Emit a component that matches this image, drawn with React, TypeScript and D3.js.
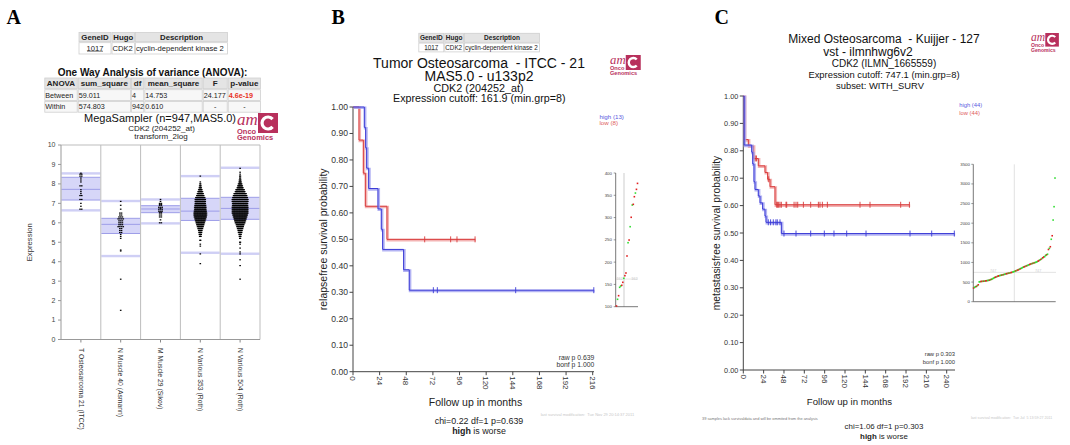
import React from 'react';
import * as d3 from 'd3';

const SANS = 'Liberation Sans, Arial, Helvetica, sans-serif';
const SERIF = 'Liberation Serif, Times New Roman, serif';

// ---------- Panel A data ----------
const groupLabels = ['T Osteosarcoma 21 (ITCC)', 'N Muscle 40 (Asmann)', 'M Muscle 29 (Sikov)', 'N Various 353 (Roth)', 'N Various 504 (Roth)'];
// [lower whisker, q1, median, q3, upper whisker]
const boxStats = [
  [6.64, 7.17, 7.72, 8.34, 8.54],
  [4.29, 5.45, 5.92, 6.23, 7.12],
  [5.97, 6.52, 6.71, 6.88, 7.2],
  [4.46, 6.12, 6.6, 7.26, 8.4],
  [4.41, 6.18, 6.74, 7.31, 8.83],
];
// [expression value, number of samples]
const swarm1 = [[8.55, 1], [8.5, 2], [8.4, 2], [8.3, 1], [8.2, 1], [8.1, 1], [7.9, 2], [7.7, 1], [7.6, 1], [7.5, 1], [7.4, 2], [7.2, 2], [7.0, 1], [6.85, 1], [6.7, 2]];
const swarm2 = [[7.1, 1], [6.9, 1], [6.7, 1], [6.5, 2], [6.4, 2], [6.3, 3], [6.2, 4], [6.1, 3], [6.0, 3], [5.9, 3], [5.8, 4], [5.7, 2], [5.6, 2], [5.5, 2], [5.4, 1], [5.3, 1], [5.2, 1], [4.6, 1], [4.55, 1], [3.1, 1], [1.5, 1]];
const swarm3 = [[7.2, 1], [7.1, 1], [7.0, 2], [6.95, 2], [6.9, 2], [6.8, 3], [6.75, 1], [6.7, 3], [6.6, 3], [6.55, 2], [6.5, 2], [6.4, 2], [6.3, 2], [6.15, 1], [6.0, 2]];
const swarm4 = [[8.4, 1], [8.1, 1], [8.0, 2], [7.9, 3], [7.8, 4], [7.7, 6], [7.6, 8], [7.5, 10], [7.4, 12], [7.3, 15], [7.2, 17], [7.1, 17], [7.0, 17], [6.9, 18], [6.8, 19], [6.7, 19], [6.6, 20], [6.5, 21], [6.4, 21], [6.3, 20], [6.2, 18], [6.1, 16], [6.0, 14], [5.9, 12], [5.8, 10], [5.7, 8], [5.6, 6], [5.5, 5], [5.4, 4], [5.3, 3], [5.1, 2], [4.9, 1], [4.8, 1], [4.4, 1], [3.9, 1]];
const swarm5 = [[8.8, 1], [8.6, 1], [8.5, 1], [8.4, 2], [8.3, 2], [8.2, 3], [8.1, 4], [8.0, 6], [7.9, 8], [7.8, 10], [7.7, 14], [7.6, 16], [7.5, 20], [7.4, 22], [7.3, 24], [7.2, 26], [7.1, 26], [7.0, 25], [6.9, 25], [6.8, 26], [6.7, 26], [6.6, 26], [6.5, 26], [6.4, 24], [6.3, 22], [6.2, 20], [6.1, 18], [6.0, 16], [5.9, 13], [5.8, 11], [5.7, 9], [5.6, 7], [5.5, 6], [5.4, 4], [5.3, 3], [5.2, 2], [5.0, 2], [4.9, 1], [4.7, 1], [4.5, 1], [4.4, 1], [4.1, 1], [3.8, 1], [3.1, 1]];
const swarms = [swarm1, swarm2, swarm3, swarm4, swarm5];
const exprTicks = [0, 1, 2, 3, 4, 5, 6, 7, 8, 9, 10];

const geneHeader = ['GeneID', 'Hugo', 'Description'];
const geneRow = ['1017', 'CDK2', 'cyclin-dependent kinase 2'];
const anovaHeader = ['ANOVA', 'sum_square', 'df', 'mean_square', 'F', 'p-value'];
const anovaBetween = ['Between', '59.011', '4', '14.753', '24.177', '4.6e-19'];
const anovaWithin = ['Within', '574.803', '942', '0.610', '-', '-'];

// ---------- Panel B data ----------
// step points [months, survival]
const bHighSteps = [[0, 1], [10.2, 0.923], [11.4, 0.846], [12.3, 0.769], [14.1, 0.692], [22.5, 0.615], [25.5, 0.538], [26.7, 0.462], [45.6, 0.385], [50.7, 0.308]];
const bHighCensor = [72.4, 76, 146.6, 217];
const bHighEnd = 217;
const bLowSteps = [[0, 1], [5.4, 0.875], [9.3, 0.75], [11.1, 0.625], [30.6, 0.5]];
const bLowCensor = [64.6, 88, 93.7, 110];
const bLowEnd = 110;
const bInsetValues = [101.6, 116.6, 124.7, 143.5, 146.4, 148, 154.7, 163.7, 169.6, 175.6, 213.8, 243.6, 249.6, 279.5, 300.6, 328.2, 329.7, 346.8, 355, 363.3, 376.7];
const bInsetColors = 'rgrggrrgrrrgrgrgrrgrr';
const bInsetTicks = [100, 150, 200, 250, 300, 350, 400];
const bCutoff = 162;

// ---------- Panel C data ----------
const cHighSteps = [[0, 1], [1.0, 0.821], [9.9, 0.795], [11.1, 0.752], [12.6, 0.687], [13.8, 0.659], [17.7, 0.635], [19.7, 0.61], [22.8, 0.587], [25.6, 0.562], [26.8, 0.539], [44.9, 0.498]];
const cHighCensor = [29.5, 32.2, 35.4, 38.5, 40.1, 43.3, 48, 62.2, 79.5, 95.6, 107, 122, 144.8, 196.7, 222.3, 249];
const cHighEnd = 249;
const cLowSteps = [[0, 1], [1.2, 0.841], [5.9, 0.818], [11.8, 0.772], [17.7, 0.745], [25.6, 0.721], [28.7, 0.696], [31.5, 0.669], [37.4, 0.603]];
const cLowCensor = [14, 15.5, 30, 39.4, 40.5, 41.7, 43.3, 44.9, 50.4, 51.2, 59.9, 62.2, 64.2, 70.9, 79.5, 88.6, 90.5, 93.3, 99.2, 137.7, 149.5, 185.7, 196];
const cLowEnd = 196;
const cInsetValues = [350, 365, 380, 390, 410, 430, 505, 510, 515, 518, 520, 522, 525, 530, 535, 540, 545, 550, 560, 570, 580, 595, 610, 620, 632, 640, 650, 660, 666, 672, 678, 684, 690, 698, 705, 712, 718, 724, 730, 736, 742, 748, 757, 765, 775, 785, 795, 805, 815, 828, 840, 852, 865, 878, 888, 898, 908, 918, 928, 938, 950, 960, 968, 976, 984, 992, 1000, 1010, 1020, 1035, 1050, 1065, 1080, 1100, 1120, 1140, 1150, 1180, 1195, 1210, 1330, 1360, 1400, 1590, 1680, 2080, 2420, 3150];
const cInsetColors = 'rggrgrggrrgrgrrggrgrgggrrgrrggrgrggrrgrgrrgggrgrrgrgggrrgrggrrgrgrgggrrgrgrrggrgrgrgrgg';
const cInsetTicks = [0, 500, 1000, 1500, 2000, 2500, 3000, 3500];
const cCutoff = 747;

const survTicks = [0, 0.1, 0.2, 0.3, 0.4, 0.5, 0.6, 0.7, 0.8, 0.9, 1.0];
const bMonthTicks = [0, 24, 48, 72, 96, 120, 144, 168, 192, 216];
const cMonthTicks = [0, 24, 48, 72, 96, 120, 144, 168, 192, 216, 240];

const BLUE = '#3b3bd6';
const BLUE_L = '#a0a0f0';
const RED = '#d83a3a';
const RED_L = '#f0a0a0';
const LOGO = '#b8305c';

function Logo({ x, y, s }: { x: number; y: number; s: number }) {
  return (
    <g transform={`translate(${x},${y}) scale(${s})`}>
      <rect x={21} y={0} width={20} height={20} fill={LOGO} />
      <path d="M 35.6 13.9 A 6 6 0 1 1 35.6 6.1" stroke="#fff" strokeWidth={3.2} fill="none" />
      <text x={0} y={12} fontFamily={SERIF} fontStyle="italic" fontSize={17} fill={LOGO}>am</text>
      <text x={0} y={20.5} fontFamily={SANS} fontWeight="bold" fontSize={7.5} fill={LOGO}>Onco</text>
      <text x={0} y={27.3} fontFamily={SANS} fontWeight="bold" fontSize={7.5} fill={LOGO}>Genomics</text>
    </g>
  );
}

function Cells({ bounds, y0, y1, texts, fs, bold, fill, align, colors }: any) {
  return (
    <g>
      {texts.map((t: string, i: number) => {
        const a = bounds[i], b = bounds[i + 1];
        const al = align ? align[i] : 'middle';
        const tx = al === 'middle' ? (a + b) / 2 : a + 1;
        return (
          <g key={i}>
            <rect x={a + 0.5} y={y0} width={b - a - 1} height={y1 - y0} fill={fill} stroke="#cfcfcf" strokeWidth={0.8} />
            <text x={tx} y={(y0 + y1) / 2 + fs * 0.36} fontFamily={SANS} fontSize={fs} fontWeight={bold ? 'bold' : (colors && colors[i] ? 'bold' : 'normal')} textAnchor={al} fill={colors && colors[i] ? colors[i] : '#222'}>{t}</text>
          </g>
        );
      })}
    </g>
  );
}

function stepPath(steps: number[][], end: number, x: any, y: any) {
  let d = `M${x(steps[0][0])},${y(steps[0][1])}`;
  for (let i = 1; i < steps.length; i++) {
    d += `H${x(steps[i][0])}V${y(steps[i][1])}`;
  }
  d += `H${x(end)}`;
  return d;
}
function survAt(steps: number[][], t: number) {
  let s = 1;
  for (const st of steps) if (st[0] <= t) s = st[1];
  return s;
}

function KMCurve({ steps, end, censor, x, y, col, light }: any) {
  const d = stepPath(steps, end, x, y);
  return (
    <g>
      <path d={d} transform="translate(0.8,0.8)" stroke={light} strokeWidth={2.6} fill="none" opacity={0.8} />
      <path d={d} stroke={col} strokeWidth={1} fill="none" />
      {censor.map((t: number, i: number) => {
        const yy = y(survAt(steps, t));
        return <line key={i} x1={x(t)} x2={x(t)} y1={yy - 3} y2={yy + 3} stroke={col} strokeWidth={0.9} />;
      })}
    </g>
  );
}

function KMAxes({ x, y, xTicks, xEnd, fsY, fsX, label, labelX, labelFs, titleX, titleY, titleFs }: any) {
  const x0 = x(0);
  const y0 = y(0);
  return (
    <g fontFamily={SANS} fill="#333">
      <line x1={x0} x2={x0} y1={y(1)} y2={y0} stroke="#444" strokeWidth={1} />
      <line x1={x0} x2={xEnd} y1={y0} y2={y0} stroke="#444" strokeWidth={1} />
      {survTicks.map((t, i) => (
        <g key={i}>
          <line x1={x0 - 3.5} x2={x0} y1={y(t)} y2={y(t)} stroke="#444" />
          <text x={x0 - 5} y={y(t) + fsY * 0.35} fontSize={fsY} textAnchor="end">{t.toFixed(2)}</text>
        </g>
      ))}
      {xTicks.map((t: number, i: number) => (
        <g key={i}>
          <line x1={x(t)} x2={x(t)} y1={y0} y2={y0 + 3.5} stroke="#444" />
          <text transform={`translate(${x(t) - fsX * 0.35},${y0 + 4.5}) rotate(90)`} fontSize={fsX} textAnchor="start">{t}</text>
        </g>
      ))}
      <text transform={`translate(${labelX},${(y(1) + y0) / 2}) rotate(-90)`} fontSize={labelFs} textAnchor="middle" fill="#222">{label}</text>
      <text x={titleX} y={titleY} fontSize={titleFs} textAnchor="middle" fill="#222">Follow up in months</text>
    </g>
  );
}

export default function App() {
  // ----- Panel A -----
  const yA = d3.scaleLinear().domain([0, 10]).range([339.5, 145]);
  const xA = d3.scaleBand<string>().domain(groupLabels).range([61, 260]);
  const bw = xA.bandwidth();

  // ----- Panel B -----
  const xB = d3.scaleLinear().domain([0, 216]).range([353, 592.7]);
  const yB = d3.scaleLinear().domain([0, 1]).range([371.7, 107]);
  const xIB = d3.scaleLinear().domain([0, bInsetValues.length - 1]).range([616.5, 637.5]);
  const yIB = d3.scaleLinear().domain([100, 400]).range([306.7, 173]);

  // ----- Panel C -----
  const xC = d3.scaleLinear().domain([0, 240]).range([743.3, 946.7]);
  const yC = d3.scaleLinear().domain([0, 1]).range([370, 96]);
  const xIC = d3.scaleLinear().domain([0, cInsetValues.length - 1]).range([973.6, 1055]);
  const yIC = d3.scaleLinear().domain([0, 3500]).range([301.7, 164.3]);

  const insetCol = (c: string) => (c === 'r' ? '#e02020' : '#33dd33');
  const pre = { whiteSpace: 'pre' as const };

  return (
    <svg width={1070} height={445} style={{ position: 'absolute', left: 0, top: 0, background: '#fff' }} fontFamily={SANS}>
      <rect x={0} y={0} width={1070} height={445} fill="#fff" />
      {/* Panel letters */}
      <text x={6.5} y={23.5} fontFamily={SERIF} fontWeight="bold" fontSize={20}>A</text>
      <text x={331.5} y={24} fontFamily={SERIF} fontWeight="bold" fontSize={20}>B</text>
      <text x={714.5} y={23.5} fontFamily={SERIF} fontWeight="bold" fontSize={20}>C</text>

      {/* ===== Panel A ===== */}
      <Cells bounds={[78.5, 111.5, 135, 228]} y0={32.5} y1={41.7} texts={geneHeader} fs={7.8} bold fill="#e4e4e4" />
      <Cells bounds={[78.5, 111.5, 135, 228]} y0={42.7} y1={54} texts={geneRow} fs={7.6} fill="#fff" align={['middle', 'start', 'start']} />
      <line x1={87} x2={103} y1={51.2} y2={51.2} stroke="#222" strokeWidth={0.6} />
      <text x={152.5} y={76} fontSize={10} fontWeight="bold" textAnchor="middle" fill="#111">One Way Analysis of variance (ANOVA):</text>
      <Cells bounds={[44.3, 77.7, 131, 144.3, 202.7, 227.7, 261]} y0={78} y1={88.7} texts={anovaHeader} fs={8} bold fill="#e4e4e4" />
      <Cells bounds={[44.3, 77.7, 131, 144.3, 202.7, 227.7, 261]} y0={89.7} y1={100.5} texts={anovaBetween} fs={7.2} fill="#f7f7f7" align={['start', 'start', 'start', 'start', 'start', 'start']} colors={[null, null, null, null, null, '#e8321e']} />
      <Cells bounds={[44.3, 77.7, 131, 144.3, 202.7, 227.7, 261]} y0={101.5} y1={112.2} texts={anovaWithin} fs={7.2} fill="#f7f7f7" align={['start', 'start', 'start', 'start', 'middle', 'middle']} />
      <text x={160} y={122.3} fontSize={11} textAnchor="middle" fill="#111">MegaSampler (n=947,MAS5.0)</text>
      <text x={161.5} y={131} fontSize={8} textAnchor="middle" fill="#222">CDK2 (204252_at)</text>
      <text x={161} y={139.3} fontSize={8} textAnchor="middle" fill="#222">transform_2log</text>
      <Logo x={237} y={113} s={1} />

      {/* box plot frame */}
      <g>
        {groupLabels.map((g, i) => {
          const x0 = xA(g) as number;
          const [lo, q1, med, q3, hi] = boxStats[i];
          const step = swarms[i].reduce((a, r) => a + r[1], 0) > 100 ? 0.62 : 1.7;
          return (
            <g key={g}>
              <rect x={x0 + 0.5} y={yA(hi) - 1.2} width={bw - 1} height={2.4} fill="#cfcff5" />
              <rect x={x0 + 0.5} y={yA(lo) - 1.2} width={bw - 1} height={2.4} fill="#cfcff5" />
              <rect x={x0 + 0.5} y={yA(q3)} width={bw - 1} height={yA(q1) - yA(q3)} fill="#d6d6f8" />
              {[q1, med, q3].map((v, k) => (
                <line key={k} x1={x0 + 0.5} x2={x0 + bw - 0.5} y1={yA(v)} y2={yA(v)} stroke="#9d9de8" strokeWidth={1} />
              ))}
              {swarms[i].map((r, k) => {
                const n = r[1];
                const cx = x0 + bw / 2;
                const out = [];
                for (let j = 0; j < n; j++) {
                  const off = (j - (n - 1) / 2) * step;
                  out.push(<rect key={j} x={cx + off - 0.8} y={yA(r[0]) - 0.6} width={1.6} height={1.2} fill="#000" />);
                }
                return <g key={k}>{out}</g>;
              })}
              <line x1={x0 + bw / 2} x2={x0 + bw / 2} y1={339.5} y2={342.5} stroke="#888" />
              <text transform={`translate(${x0 + bw / 2 - 2.4},348) rotate(90)`} fontSize={6.8} fill="#333">{g}</text>
            </g>
          );
        })}
        <line x1={61} x2={260} y1={145} y2={145} stroke="#bdbdbd" />
        {groupLabels.map((g, i) => (
          <line key={i} x1={(xA(g) as number) + bw} x2={(xA(g) as number) + bw} y1={145} y2={339.5} stroke="#bdbdbd" />
        ))}
        <line x1={61} x2={61} y1={145} y2={339.5} stroke="#999" />
        <line x1={61} x2={260} y1={339.5} y2={339.5} stroke="#999" />
        {exprTicks.map((t) => (
          <g key={t}>
            <line x1={58} x2={61} y1={yA(t)} y2={yA(t)} stroke="#999" />
            <text x={55.5} y={yA(t) + 2.4} fontSize={7} textAnchor="end" fill="#444">{t}</text>
          </g>
        ))}
        <text transform={`translate(32.2,${(145 + 339.5) / 2}) rotate(-90)`} fontSize={7.7} textAnchor="middle" fill="#333">Expression</text>
      </g>

      {/* ===== Panel B ===== */}
      <Cells bounds={[418.3, 444.3, 464, 540]} y0={33.3} y1={42.3} texts={geneHeader} fs={6.5} bold fill="#e4e4e4" />
      <Cells bounds={[418.3, 444.3, 464, 540]} y0={43.1} y1={51.9} texts={geneRow} fs={6.3} fill="#fff" align={['middle', 'start', 'start']} />
      <line x1={425} x2={438} y1={49.8} y2={49.8} stroke="#222" strokeWidth={0.5} />
      <text x={479} y={67.7} fontSize={14} textAnchor="middle" fill="#111" style={pre}>Tumor Osteosarcoma  - ITCC - 21</text>
      <text x={479} y={80.8} fontSize={14} textAnchor="middle" fill="#111">MAS5.0 - u133p2</text>
      <text x={478.5} y={91.6} fontSize={10.8} textAnchor="middle" fill="#111">CDK2 (204252_at)</text>
      <text x={479.3} y={101.7} fontSize={10.7} textAnchor="middle" fill="#111">Expression cutoff: 161.9 (min.grp=8)</text>
      <Logo x={610} y={55} s={0.75} />

      <KMAxes x={xB} y={yB} xTicks={bMonthTicks} xEnd={594} fsY={8.6} fsX={8} label="relapsefree survival probability" labelX={326.7} labelFs={10.5} titleX={475.5} titleY={406} titleFs={10.5} />
      <KMCurve steps={bLowSteps} end={bLowEnd} censor={bLowCensor} x={xB} y={yB} col={RED} light={RED_L} />
      <KMCurve steps={bHighSteps} end={bHighEnd} censor={bHighCensor} x={xB} y={yB} col={BLUE} light={BLUE_L} />
      <text x={599.5} y={118.7} fontSize={6.2} fill="#5a5ae0">high (13)</text>
      <text x={599.5} y={125.3} fontSize={6.2} fill="#e05a5a">low (8)</text>
      <text x={594.3} y={360} fontSize={6.8} textAnchor="end" fill="#333">raw p 0.639</text>
      <text x={594.3} y={367.3} fontSize={6.8} textAnchor="end" fill="#333">bonf p 1.000</text>
      <text x={479} y={424} fontSize={8.9} textAnchor="middle" fill="#222">chi=0.22 df=1 p=0.639</text>
      <text x={479} y={433.5} fontSize={8.9} textAnchor="middle" fill="#222"><tspan fontWeight="bold">high</tspan> is worse</text>
      <text x={540.7} y={415.7} fontSize={4} fill="#c8c8c8" style={pre}>last survival modification:  Tue Nov 29 20:14:37 2011</text>

      {/* inset B */}
      <g>
        <line x1={624} x2={624} y1={173} y2={306.7} stroke="#e6e6e6" strokeWidth={2} />
        <line x1={616} x2={638} y1={yIB(bCutoff)} y2={yIB(bCutoff)} stroke="#e0e0e0" strokeWidth={0.8} />
        <text x={616.5} y={yIB(bCutoff) + 1.3} fontSize={3.8} fill="#c8c8c8">162</text>
        <text x={637.5} y={yIB(bCutoff) + 1.3} fontSize={3.8} fill="#c8c8c8" textAnchor="end">162</text>
        <line x1={615.7} x2={615.7} y1={173} y2={306.7} stroke="#555" strokeWidth={0.8} />
        <line x1={615.7} x2={638} y1={306.7} y2={306.7} stroke="#555" strokeWidth={0.8} />
        {bInsetTicks.map((t) => (
          <g key={t}>
            <line x1={613.7} x2={615.7} y1={yIB(t)} y2={yIB(t)} stroke="#555" strokeWidth={0.6} />
            <text x={612} y={yIB(t) + 1.5} fontSize={4.4} textAnchor="end" fill="#444">{t}</text>
          </g>
        ))}
        {bInsetValues.map((v, i) => (
          <rect key={i} x={xIB(i) - 0.8} y={yIB(v) - 0.8} width={1.6} height={1.6} fill={insetCol(bInsetColors[i])} />
        ))}
      </g>

      {/* ===== Panel C ===== */}
      <text x={884} y={42.5} fontSize={12} textAnchor="middle" fill="#111" style={pre}>Mixed Osteosarcoma  - Kuijjer - 127</text>
      <text x={868} y={55.5} fontSize={12} textAnchor="middle" fill="#111">vst - ilmnhwg6v2</text>
      <text x={884} y={67} fontSize={10} textAnchor="middle" fill="#111">CDK2 (ILMN_1665559)</text>
      <text x={884} y={78} fontSize={9.4} textAnchor="middle" fill="#111">Expression cutoff: 747.1 (min.grp=8)</text>
      <text x={880} y={88.5} fontSize={9.4} textAnchor="middle" fill="#111">subset: WITH_SURV</text>
      <Logo x={1031} y={33} s={0.68} />

      <KMAxes x={xC} y={yC} xTicks={cMonthTicks} xEnd={955} fsY={7.3} fsX={8} label="metastasisfree survival probability" labelX={719.5} labelFs={10.3} titleX={849.5} titleY={405} titleFs={9.6} />
      <KMCurve steps={cLowSteps} end={cLowEnd} censor={cLowCensor} x={xC} y={yC} col={RED} light={RED_L} />
      <KMCurve steps={cHighSteps} end={cHighEnd} censor={cHighCensor} x={xC} y={yC} col={BLUE} light={BLUE_L} />
      <text x={959.3} y={107.3} fontSize={5.8} fill="#5a5ae0">high (44)</text>
      <text x={959.3} y={114.5} fontSize={5.8} fill="#e05a5a">low (44)</text>
      <text x={955} y={356.3} fontSize={5.8} textAnchor="end" fill="#333">raw p 0.303</text>
      <text x={955} y={364} fontSize={5.8} textAnchor="end" fill="#333">bonf p 1.000</text>
      <text x={884} y={428.8} fontSize={7.9} textAnchor="middle" fill="#222">chi=1.06 df=1 p=0.303</text>
      <text x={884} y={438.5} fontSize={7.9} textAnchor="middle" fill="#222"><tspan fontWeight="bold">high</tspan> is worse</text>
      <text x={702} y={419.5} fontSize={3.9} fill="#777">39 samples lack survivaldata and will be ommited from the analysis</text>
      <text x={971} y={419} fontSize={3.6} fill="#c8c8c8" style={pre}>last survival modification:  Tue Jul  5 13:59:27 2011</text>

      {/* inset C */}
      <g>
        <line x1={1014.3} x2={1014.3} y1={164.3} y2={301.7} stroke="#e2e2e2" strokeWidth={1} />
        <line x1={973.3} x2={1056} y1={yIC(cCutoff)} y2={yIC(cCutoff)} stroke="#dcdcdc" strokeWidth={0.8} />
        <text x={990} y={yIC(cCutoff) - 0.2} fontSize={3.8} fill="#d0d0d0">747</text>
        <text x={1035} y={yIC(cCutoff) - 0.2} fontSize={3.8} fill="#d0d0d0">747</text>
        <line x1={973.3} x2={973.3} y1={164.3} y2={301.7} stroke="#555" strokeWidth={0.8} />
        <line x1={973.3} x2={1055.7} y1={301.7} y2={301.7} stroke="#555" strokeWidth={0.8} />
        {cInsetTicks.map((t) => (
          <g key={t}>
            <line x1={971.3} x2={973.3} y1={yIC(t)} y2={yIC(t)} stroke="#555" strokeWidth={0.6} />
            <text x={970} y={yIC(t) + 1.5} fontSize={4.4} textAnchor="end" fill="#444">{t}</text>
          </g>
        ))}
        {cInsetValues.map((v, i) => (
          <rect key={i} x={xIC(i) - 0.8} y={yIC(v) - 0.8} width={1.6} height={1.6} fill={insetCol(cInsetColors[i] || 'g')} />
        ))}
      </g>
    </svg>
  );
}
